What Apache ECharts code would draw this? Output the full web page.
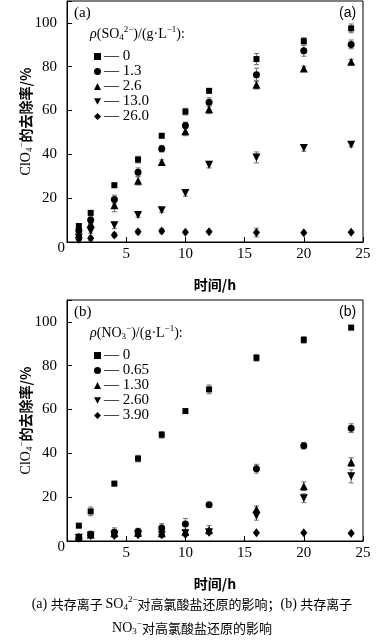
<!DOCTYPE html>
<html><head><meta charset="utf-8">
<script src="https://cdn.jsdelivr.net/npm/echarts@6/dist/echarts.min.js"></script>
<style>html,body{margin:0;padding:0;background:#fff}#c{width:384px;height:640px}</style>
</head><body><div id="c"></div>
<script>
// ---------- data ----------
const hours = [1, 2, 4, 6, 8, 10, 12, 16, 20, 24];
const sulfateLevels = ['0', '1.3', '2.6', '13.0', '26.0'];
const nitrateLevels = ['0', '0.65', '1.30', '2.60', '3.90'];

// panel (a): SO4 2-
const a_0    = [7.3, 13.3, 25.9, 37.6, 48.5, 59.5, 69.0, 83.5, 91.7, 97.5];
const a_1_3  = [5.3, 10.0, 19.4, 31.8, 42.6, 53.2, 63.8, 76.3, 87.3, 90.2];
const a_2_6  = [3.5, 8.3, 16.8, 28.0, 36.5, 50.5, 60.6, 71.8, 79.2, 82.3];
const a_13_0 = [2.0, 5.0, 7.6, 12.3, 14.5, 22.4, 35.3, 38.6, 42.9, 44.4];
const a_26_0 = [1.2, 1.7, 3.2, 4.7, 5.0, 4.5, 4.7, 4.3, 4.2, 4.5];
const aErr_0    = [1, 1, 1, 1.5, 1, 1.5, 1, 2.5, 1.5, 2];
const aErr_1_3  = [1, 1.5, 2, 2, 1.5, 1.5, 2, 3, 2.5, 2];
const aErr_2_6  = [1, 1.5, 3, 2, 1, 2, 2, 2, 1, 1];
const aErr_13_0 = [1, 1, 1.5, 1, 1, 1.5, 1.5, 2.5, 1.5, 1];
const aErr_26_0 = [0.5, 1, 1, 1, 1, 0.5, 0.5, 2, 0.5, 0.5];

// panel (b): NO3 -
const b_0    = [7.0, 13.5, 26.2, 37.6, 48.5, 59.3, 69.2, 83.6, 91.8, 97.4];
const b_0_65 = [1.5, 3.0, 4.0, 4.3, 5.9, 7.8, 16.5, 33.0, 43.5, 51.5];
const b_1_30 = [2.0, 3.0, 3.5, 3.8, 3.5, 4.2, 5.0, 14.5, 25.0, 36.0];
const b_2_60 = [1.5, 2.5, 2.8, 3.0, 2.8, 3.5, 4.0, 11.5, 19.5, 29.5];
const b_3_90 = [1.2, 2.5, 2.5, 2.8, 2.8, 3.0, 4.0, 3.8, 3.8, 3.5];
const bErr_0    = [1, 2, 1, 1.5, 1.5, 1, 2, 1.5, 1.5, 1];
const bErr_0_65 = [1, 1.5, 2, 1.5, 2, 2.5, 1, 2, 1.5, 2];
const bErr_1_30 = [1, 1, 1.5, 1.5, 1, 1, 2, 1.5, 2, 2];
const bErr_2_60 = [1, 1, 1, 1, 1, 1, 1, 2, 2, 3];
const bErr_3_90 = [0.5, 0.5, 0.5, 0.5, 0.5, 0.5, 0.5, 0.5, 0.5, 0.5];

const xMin = 0, xMax = 25, xStep = 5;
const yMin = 0, yMax = 110, yStep = 20;

// ---------- styling ----------
const SERIF = '"Liberation Serif", "Times New Roman", "Noto Sans CJK SC", serif';
const symbols = [
  {symbol: 'rect', size: 6, rotate: 0, icon: null},
  {symbol: 'circle', size: 7, rotate: 0, icon: null},
  {symbol: 'triangle', size: 8, rotate: 0, icon: null},
  {symbol: 'triangle', size: 8, rotate: 180, icon: 'path://M0,0L10,0L5,9Z'},
  {symbol: 'diamond', size: [7, 9], rotate: 0, icon: null}
];
const richBase = {
  n: {fontFamily: SERIF, fontSize: 14, color: '#000'},
  i: {fontFamily: SERIF, fontSize: 14, fontStyle: 'italic', color: '#000'},
  sub: {fontFamily: SERIF, fontSize: 9, color: '#000', padding: [8, 0, 0, 0]},
  sup: {fontFamily: SERIF, fontSize: 9, color: '#000', padding: [0, 0, 9, 0]},
  c: {fontFamily: '"Noto Sans CJK SC"', fontSize: 14, color: '#000', fontWeight: 'bold'},
  cn: {fontFamily: '"Noto Sans CJK SC"', fontSize: 13, color: '#000'}
};

const panels = [
  {tag: 'a', top: 1, levels: sulfateLevels, vals: [a_0, a_1_3, a_2_6, a_13_0, a_26_0],
   errs: [aErr_0, aErr_1_3, aErr_2_6, aErr_13_0, aErr_26_0],
   title: '{i|ρ}{n|(SO}{sub|4}{sup|2−}{n|)/(g·L}{sup|−1}{n|):}'},
  {tag: 'b', top: 300, levels: nitrateLevels, vals: [b_0, b_0_65, b_1_30, b_2_60, b_3_90],
   errs: [bErr_0, bErr_0_65, bErr_1_30, bErr_2_60, bErr_3_90],
   title: '{i|ρ}{n|(NO}{sub|3}{sup|−}{n|)/(g·L}{sup|−1}{n|):}'}
];

const grids = [], xAxes = [], yAxes = [], series = [], legends = [], graphics = [];
const plotH = 241;
panels.forEach((p, pi) => {
  grids.push({left: 67, width: 296, top: p.top, height: plotH, show: true, borderColor: '#000', borderWidth: 1, containLabel: false});
  xAxes.push({
    type: 'value', gridIndex: pi, min: xMin, max: xMax, interval: xStep,
    name: '{c|时间/h}', nameLocation: 'middle', nameGap: 36, nameMoveOverlap: false,
    nameTextStyle: {rich: richBase},
    axisLine: {show: true, lineStyle: {color: '#000', width: 1}},
    axisTick: {show: true, inside: true, length: 5, lineStyle: {color: '#000'}},
    axisLabel: {fontFamily: SERIF, fontSize: 15, color: '#000', margin: 5,
      formatter: v => v === 0 ? '' : String(v)},
    splitLine: {show: false}
  });
  yAxes.push({
    type: 'value', gridIndex: pi, min: yMin, max: yMax, interval: yStep,
    name: '{n|ClO}{sub|4}{sup|−}{c|的去除率/%}', nameLocation: 'middle', nameGap: 32, nameRotate: 90,
    nameMoveOverlap: false,
    nameTextStyle: {rich: richBase},
    axisLine: {show: true, lineStyle: {color: '#000', width: 1}},
    axisTick: {show: true, inside: true, length: 5, lineStyle: {color: '#000'}},
    axisLabel: {margin: 2, color: '#000',
      formatter: v => v === 0 ? '{z|0}' : (v > 100 ? '' : '{t|' + v + '}'),
      rich: {
        t: {fontFamily: SERIF, fontSize: 15, color: '#000', padding: [0, 8, 0, 0]},
        z: {fontFamily: SERIF, fontSize: 15, color: '#000', padding: [13, 0, 0, 0]}
      }},
    splitLine: {show: false}
  });
  const legendData = [];
  p.levels.forEach((lv, si) => {
    const nm = p.tag + ':' + lv;
    legendData.push(symbols[si].icon ? {name: nm, icon: symbols[si].icon} : {name: nm});
    const vals = p.vals[si], errs = p.errs[si];
    series.push({
      type: 'custom', name: nm + ':err', xAxisIndex: pi, yAxisIndex: pi, silent: true, z: 2,
      data: hours.map((h, i) => [h, vals[i], errs[i]]),
      renderItem: (params, api) => {
        const x = api.value(0), y = api.value(1), e = api.value(2);
        const t = api.coord([x, y + e]), b = api.coord([x, y - e]);
        const w = 2.5;
        const st = {stroke: '#6e6e6e', lineWidth: 1};
        return {type: 'group', children: [
          {type: 'line', shape: {x1: t[0], y1: t[1], x2: b[0], y2: b[1]}, style: st},
          {type: 'line', shape: {x1: t[0] - w, y1: t[1], x2: t[0] + w, y2: t[1]}, style: st},
          {type: 'line', shape: {x1: b[0] - w, y1: b[1], x2: b[0] + w, y2: b[1]}, style: st}
        ]};
      }
    });
    series.push({
      type: 'scatter', name: nm, xAxisIndex: pi, yAxisIndex: pi, z: 3,
      symbol: symbols[si].symbol, symbolSize: symbols[si].size, symbolRotate: symbols[si].rotate,
      itemStyle: {color: '#000', opacity: 1},
      data: hours.map((h, i) => [h, vals[i]])
    });
  });
  legends.push({
    orient: 'vertical', left: 89, top: p.top + 43, itemWidth: 7, itemHeight: 7, itemGap: 0,
    selectedMode: false, data: legendData,
    formatter: n => '— ' + n.split(':')[1],
    textStyle: {fontFamily: SERIF, fontSize: 15, color: '#000', lineHeight: 15, padding: [0, 0, 0, -2]}
  });
  graphics.push({type: 'text', left: 90, top: p.top + 24, style: {text: p.title, rich: richBase}});
  graphics.push({type: 'text', left: 74, top: p.top + 5, style: {text: '(' + p.tag + ')', font: '15px ' + SERIF, fill: '#000'}});
  graphics.push({type: 'text', left: 339, top: p.top + 5, style: {text: '(' + p.tag + ')', font: '14px "Liberation Sans", Arial, sans-serif', fill: '#000'}});
});

graphics.push({type: 'text', left: 'center', top: 595,
  style: {text: '{n|(a) }{cn|共存离子 }{n|SO}{sub|4}{sup|2−}{cn|对高氯酸盐还原的影响；}{n|(b) }{cn|共存离子}', rich: richBase}});
graphics.push({type: 'text', left: 'center', top: 619,
  style: {text: '{n|NO}{sub|3}{sup|−}{cn|对高氯酸盐还原的影响}', rich: richBase}});

const chart = echarts.init(document.getElementById('c'), null, {renderer: 'canvas'});
chart.setOption({
  animation: false,
  backgroundColor: '#fff',
  grid: grids, xAxis: xAxes, yAxis: yAxes, series: series, legend: legends, graphic: graphics
});
</script></body></html>
